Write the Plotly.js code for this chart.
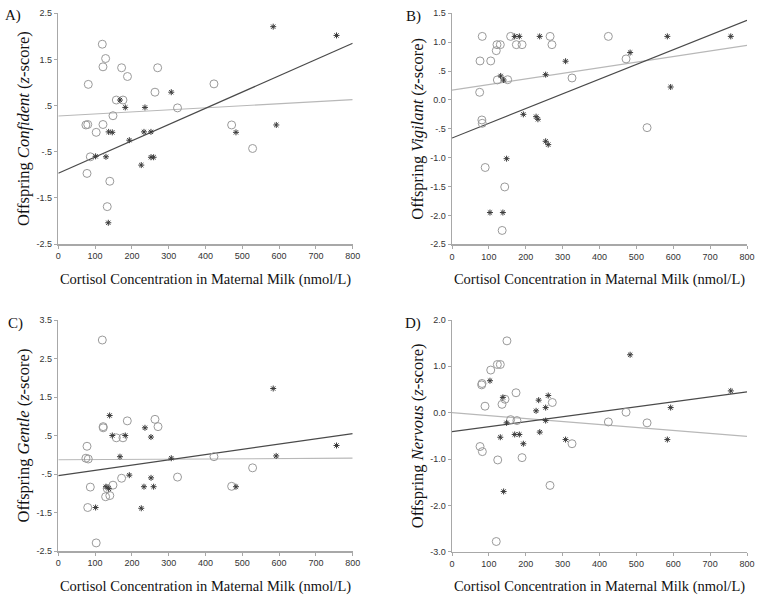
<!DOCTYPE html>
<html>
<head>
<meta charset="utf-8">
<script src="https://cdn.plot.ly/plotly-3.0.1.min.js"></script>
<style>html,body{margin:0;padding:0;background:#fff;}#chart{width:764px;height:599px;}</style>
</head>
<body>
<div id="chart"></div>
<script>
// ---------- DATA ----------
const lineX = [0, 800];
const xTickVals = [0, 100, 200, 300, 400, 500, 600, 700, 800];

// Panel A: Confident
const aCircX = [119.6,128.6,121.4,172,270,188,81.5,423,262.7,157.6,175.7,324,148.6,75,80,121.4,103,471,87,78,140,133,528];
const aCircY = [1.83,1.52,1.34,1.32,1.32,1.13,0.96,0.97,0.79,0.62,0.62,0.45,0.28,0.08,0.09,0.09,-0.08,0.08,-0.61,-0.97,-1.14,-1.69,-0.43];
const aStarX = [584,756,307,167.6,182,235.5,136.8,146.7,232.8,251.8,193,482.8,592.4,101.4,129.5,251.8,259,225.5,135.9];
const aStarY = [2.21,2.02,0.79,0.62,0.46,0.46,-0.07,-0.08,-0.07,-0.07,-0.25,-0.08,0.08,-0.60,-0.61,-0.62,-0.62,-0.79,-2.04];
const aGrayFit = [0.274, 0.629];
const aDarkFit = [-0.968, 1.85];
const aTickVals = [2.5, 1.5, 0.5, -0.5, -1.5, -2.5];
const aTickText = ["2.5", "1.5", ".5", "-.5", "-1.5", "-2.5"];

// Panel B: Vigilant
const bCircX = [82,159,266,424,122,131,174.5,190,271,120,76,105,472,123,151,325.5,75,81,82,529,90,143,136];
const bCircY = [1.1,1.1,1.1,1.1,0.957,0.957,0.957,0.957,0.957,0.853,0.675,0.675,0.71,0.346,0.35,0.38,0.132,-0.347,-0.405,-0.48,-1.17,-1.507,-2.26];
const bStarX = [170,182.6,237.8,584,756,483,308,132,140,254,593,193.5,228,233,254,261,148,103,138];
const bStarY = [1.1,1.1,1.1,1.1,1.1,0.82,0.67,0.415,0.345,0.438,0.224,-0.25,-0.29,-0.335,-0.716,-0.774,-1.017,-1.95,-1.95];
const bGrayFit = [0.17, 0.946];
const bDarkFit = [-0.66, 1.38];
const bTickVals = [1.5, 1.0, 0.5, 0.0, -0.5, -1.0, -1.5, -2.0, -2.5];
const bTickText = ["1.5", "1.0", ".5", "0.0", "-.5", "-1.0", "-1.5", "-2.0", "-2.5"];

// Panel C: Gentle
const cCircX = [119.6,122,122,187.5,262.7,271,157.6,175.7,78,75,81.5,423,528,172,324,148.6,87,133,128.6,140,80,103,471];
const cCircY = [2.98,0.73,0.70,0.88,0.92,0.73,0.44,0.44,0.22,-0.09,-0.11,-0.05,-0.34,-0.61,-0.58,-0.79,-0.84,-0.88,-1.09,-1.06,-1.37,-2.29,-0.82];
const cStarX = [584,756,139.5,235.5,146.7,182,251.8,167.6,307,592,193,252,129.5,136.8,232.8,259,482.8,101.4,225.5];
const cStarY = [1.72,0.24,1.02,0.70,0.50,0.50,0.46,-0.05,-0.09,-0.03,-0.53,-0.60,-0.83,-0.88,-0.83,-0.83,-0.83,-1.37,-1.39];
const cGrayFit = [-0.13, -0.09];
const cDarkFit = [-0.54, 0.55];
const cTickVals = [3.5, 2.5, 1.5, 0.5, -0.5, -1.5, -2.5];
const cTickText = ["3.5", "2.5", "1.5", ".5", "-.5", "-1.5", "-2.5"];

// Panel D: Nervous
const dCircX = [149,123,131,105,81.4,80.5,173.6,143.8,135.6,89.5,272,159,176,424,472,529,325.5,76,82.3,124,190,265.8,120];
const dCircY = [1.55,1.04,1.04,0.92,0.63,0.60,0.43,0.29,0.18,0.14,0.22,-0.15,-0.17,-0.20,0.01,-0.22,-0.67,-0.73,-0.84,-1.02,-0.97,-1.57,-2.78];
const dStarX = [483,756,103,138,261,235,254,228,593,148,254,238,131,170,182.6,193.5,308,584,140];
const dStarY = [1.25,0.47,0.69,0.33,0.37,0.27,0.11,0.04,0.11,-0.22,-0.17,-0.42,-0.53,-0.47,-0.47,-0.67,-0.58,-0.58,-1.70];
const dGrayFit = [0.0, -0.51];
const dDarkFit = [-0.41, 0.45];
const dTickVals = [2.0, 1.0, 0.0, -1.0, -2.0, -3.0];
const dTickText = ["2.0", "1.0", "0.0", "-1.0", "-2.0", "-3.0"];

const panelLabels = ["A)", "B)", "C)", "D)"];
const traitNames = ["Confident", "Vigilant", "Gentle", "Nervous"];
const xTitleText = "Cortisol Concentration in Maternal Milk (nmol/L)";

// ---------- STYLE ----------
const circColor = "#9a9a9a";
const starColor = "#3a3a3a";
const grayLineColor = "#b8b8b8";
const darkLineColor = "#4a4a4a";
const axisColor = "#a8a8a8";
const sansFont = "Liberation Sans, Arial, sans-serif";
const serifFont = "Liberation Serif, Times New Roman, serif";

const panels = [
  {cx: aCircX, cy: aCircY, sx: aStarX, sy: aStarY, g: aGrayFit, d: aDarkFit, tv: aTickVals, tt: aTickText, range: [-2.5, 2.5]},
  {cx: bCircX, cy: bCircY, sx: bStarX, sy: bStarY, g: bGrayFit, d: bDarkFit, tv: bTickVals, tt: bTickText, range: [-2.5, 1.5]},
  {cx: cCircX, cy: cCircY, sx: cStarX, sy: cStarY, g: cGrayFit, d: cDarkFit, tv: cTickVals, tt: cTickText, range: [-2.5, 3.5]},
  {cx: dCircX, cy: dCircY, sx: dStarX, sy: dStarY, g: dGrayFit, d: dDarkFit, tv: dTickVals, tt: dTickText, range: [-3.0, 2.0]}
];

const W = 764, H = 599;
const xDomains = [[58.3 / W, 352.7 / W], [452 / W, 747 / W], [58.3 / W, 352.7 / W], [452 / W, 747 / W]];
const yDomains = [[1 - 244 / H, 1 - 13.3 / H], [1 - 244.3 / H, 1 - 13.3 / H], [1 - 551 / H, 1 - 320 / H], [1 - 551.7 / H, 1 - 320 / H]];
const labelPos = [[13, 15], [413, 16], [15, 323], [413, 323]];

const traces = [];
const layout = {
  width: W, height: H,
  margin: {l: 0, r: 0, t: 0, b: 0},
  paper_bgcolor: "#fff", plot_bgcolor: "#fff",
  showlegend: false,
  annotations: []
};

panels.forEach((p, i) => {
  const n = i === 0 ? "" : String(i + 1);
  const xa = "x" + n, ya = "y" + n;
  traces.push({x: lineX, y: p.g, xaxis: xa, yaxis: ya, mode: "lines", type: "scatter",
    line: {color: grayLineColor, width: 1.2}, hoverinfo: "skip"});
  traces.push({x: lineX, y: p.d, xaxis: xa, yaxis: ya, mode: "lines", type: "scatter",
    line: {color: darkLineColor, width: 1.2}, hoverinfo: "skip"});
  traces.push({x: p.cx, y: p.cy, xaxis: xa, yaxis: ya, mode: "markers", type: "scatter",
    marker: {symbol: "circle-open", size: 8, color: circColor, line: {color: circColor, width: 1}}});
  traces.push({x: p.sx, y: p.sy, xaxis: xa, yaxis: ya, mode: "markers", type: "scatter",
    marker: {symbol: "asterisk-open", size: 5, color: starColor, line: {color: starColor, width: 1}}});

  layout["xaxis" + n] = {
    domain: xDomains[i], anchor: ya, range: [0, 800], tickvals: xTickVals,
    showgrid: false, zeroline: false, showline: true, linecolor: axisColor, linewidth: 1.5,
    ticks: "outside", ticklen: 3, tickcolor: axisColor, tickwidth: 1,
    tickfont: {family: sansFont, size: 9, color: "#333"},
    title: {text: xTitleText, font: {family: serifFont, size: 14.5, color: "#111"}, standoff: 13}
  };
  layout["yaxis" + n] = {
    domain: yDomains[i], anchor: xa, range: p.range, tickvals: p.tv, ticktext: p.tt,
    showgrid: false, zeroline: false, showline: true, linecolor: axisColor, linewidth: 1.5,
    ticks: "outside", ticklen: 3, tickcolor: axisColor, tickwidth: 1,
    tickfont: {family: sansFont, size: 9, color: "#333"},
    title: {text: "Offspring <i>" + traitNames[i] + "</i> (<i>z</i>-score)", font: {family: serifFont, size: 16.5, color: "#111"}, standoff: 2}
  };
  layout.annotations.push({
    text: panelLabels[i], xref: "paper", yref: "paper",
    x: labelPos[i][0] / W, y: 1 - labelPos[i][1] / H, xanchor: "center", yanchor: "middle",
    showarrow: false, font: {family: serifFont, size: 15, color: "#111"}
  });
});

Plotly.newPlot("chart", traces, layout, {staticPlot: true, displayModeBar: false});
</script>
</body>
</html>
